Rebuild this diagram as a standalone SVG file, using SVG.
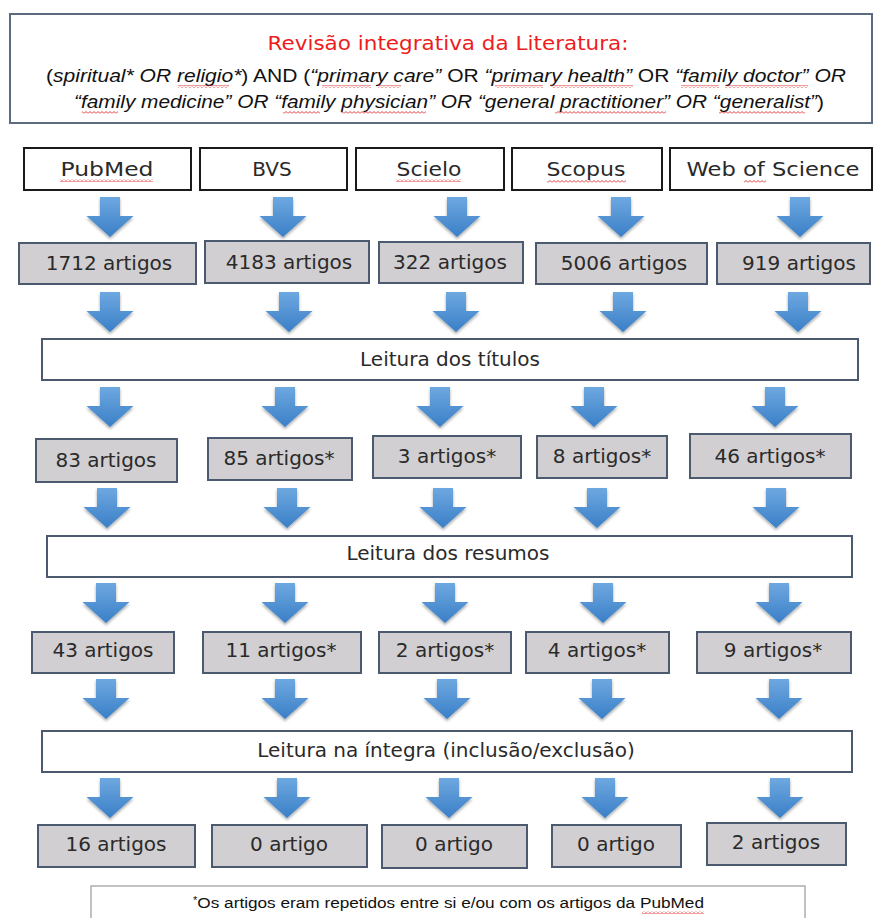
<svg xmlns="http://www.w3.org/2000/svg" width="874" height="918" viewBox="0 0 874 918">
<style>
  .bg{fill:#ffffff}
  .hdr{fill:#ffffff;stroke:#5d6b80;stroke-width:2}
  .src{fill:#ffffff;stroke:#1a1a1a;stroke-width:2}
  .cnt{fill:#d1cfd1;stroke:#4b5a6f;stroke-width:2}
  .step{fill:#ffffff;stroke:#4b5a6f;stroke-width:2}
  .foot{fill:#ffffff;stroke:#9a9a9a;stroke-width:1.2}
  .t{font-family:"DejaVu Sans",sans-serif;font-size:20px;fill:#2a2a2a;text-anchor:middle}
  .title{font-family:"DejaVu Sans",sans-serif;font-size:20px;fill:#ee1c1c;text-anchor:middle}
  .q{font-family:"Liberation Sans",Arial,sans-serif;font-size:18.5px;fill:#111111}
  .i{font-style:italic}
  .fn{font-family:"Liberation Sans",Arial,sans-serif;font-size:15.5px;fill:#111111}
  .sq{fill:url(#squig)}
</style>
<defs>
  <linearGradient id="ag" x1="0" y1="0" x2="0" y2="1">
    <stop offset="0" stop-color="#6ea8e0"/>
    <stop offset="1" stop-color="#3a7fc7"/>
  </linearGradient>
  <filter id="sh" x="-30%" y="-20%" width="160%" height="150%">
    <feDropShadow dx="0" dy="2" stdDeviation="1.6" flood-color="#000000" flood-opacity="0.35"/>
  </filter>
  <path id="arrow" d="M-10 0 H10 V19 H23.5 L0 40 L-23.5 19 H-10 Z" fill="url(#ag)" filter="url(#sh)"/>
  <pattern id="squig" patternUnits="userSpaceOnUse" width="4" height="3">
    <polyline points="0,2.5 2,0.5 4,2.5" fill="none" stroke="#e02020" stroke-width="0.9"/>
  </pattern>
</defs>
<rect class="bg" x="0" y="0" width="874" height="918"/>

<g id="header">
  <rect class="hdr" x="10" y="14" width="862" height="109"/>
  <text class="title" x="448" y="50" textLength="361" lengthAdjust="spacingAndGlyphs">Revisão integrativa da Literatura:</text>
  <text class="q" x="46" y="82" textLength="800" lengthAdjust="spacingAndGlyphs">(<tspan class="i">spiritual* OR religio*</tspan>) AND (<tspan class="i">“primary care”</tspan> OR <tspan class="i">“primary health”</tspan> OR <tspan class="i">“family doctor” OR</tspan></text>
  <text class="q" x="74" y="108" textLength="750" lengthAdjust="spacingAndGlyphs"><tspan class="i">“family medicine” OR “family physician” OR “general practitioner” OR “generalist”</tspan>)</text>
  <rect class="sq" x="178" y="85" width="51" height="3"/>
  <rect class="sq" x="322" y="85" width="49" height="3"/>
  <rect class="sq" x="378" y="85" width="23" height="3"/>
  <rect class="sq" x="495" y="85" width="48" height="3"/>
  <rect class="sq" x="551" y="85" width="82" height="3"/>
  <rect class="sq" x="681" y="85" width="38" height="3"/>
  <rect class="sq" x="725" y="85" width="83" height="3"/>
  <rect class="sq" x="82" y="111" width="36" height="3"/>
  <rect class="sq" x="283" y="111" width="37" height="3"/>
  <rect class="sq" x="341" y="111" width="85" height="3"/>
  <rect class="sq" x="555" y="111" width="111" height="3"/>
  <rect class="sq" x="719" y="111" width="86" height="3"/>
</g>

<g id="src-pubmed"><rect class="src" x="24" y="148" width="167" height="42"/><text class="t" x="107" y="176" textLength="93" lengthAdjust="spacingAndGlyphs">PubMed</text><rect class="sq" x="60" y="179" width="93" height="3"/></g>
<g id="src-bvs"><rect class="src" x="200" y="148" width="147" height="42"/><text class="t" x="272" y="176">BVS</text></g>
<g id="src-scielo"><rect class="src" x="356" y="148" width="148" height="42"/><text class="t" x="429" y="176" textLength="65" lengthAdjust="spacingAndGlyphs">Scielo</text><rect class="sq" x="396" y="179" width="65" height="3"/></g>
<g id="src-scopus"><rect class="src" x="512" y="148" width="150" height="42"/><text class="t" x="586" y="176" textLength="79" lengthAdjust="spacingAndGlyphs">Scopus</text><rect class="sq" x="547" y="180" width="79" height="3"/></g>
<g id="src-wos"><rect class="src" x="670" y="148" width="202" height="42"/><text class="t" x="773" y="176" textLength="173" lengthAdjust="spacingAndGlyphs">Web of Science</text><rect class="sq" x="744" y="180" width="22" height="3"/></g>

<g id="n1-pubmed"><rect class="cnt" x="19" y="243" width="177" height="41"/><text class="t" x="109" y="270">1712 artigos</text></g>
<g id="n1-bvs"><rect class="cnt" x="205" y="241" width="164" height="42"/><text class="t" x="289" y="269">4183 artigos</text></g>
<g id="n1-scielo"><rect class="cnt" x="379" y="242" width="144" height="41"/><text class="t" x="450" y="269">322 artigos</text></g>
<g id="n1-scopus"><rect class="cnt" x="536" y="243" width="171" height="41"/><text class="t" x="624" y="270">5006 artigos</text></g>
<g id="n1-wos"><rect class="cnt" x="717" y="243" width="153" height="41"/><text class="t" x="799" y="270">919 artigos</text></g>

<g id="step-titulos"><rect class="step" x="42" y="339" width="816" height="41"/><text class="t" x="450" y="366">Leitura dos títulos</text></g>

<g id="n2-pubmed"><rect class="cnt" x="36" y="439" width="141" height="43"/><text class="t" x="106" y="467">83 artigos</text></g>
<g id="n2-bvs"><rect class="cnt" x="208" y="438" width="144" height="42"/><text class="t" x="279" y="465">85 artigos*</text></g>
<g id="n2-scielo"><rect class="cnt" x="373" y="436" width="148" height="42"/><text class="t" x="447" y="463">3 artigos*</text></g>
<g id="n2-scopus"><rect class="cnt" x="537" y="436" width="130" height="42"/><text class="t" x="602" y="463">8 artigos*</text></g>
<g id="n2-wos"><rect class="cnt" x="690" y="434" width="161" height="44"/><text class="t" x="770" y="463">46 artigos*</text></g>

<g id="step-resumos"><rect class="step" x="47" y="536" width="805" height="41"/><text class="t" x="448" y="560">Leitura dos resumos</text></g>

<g id="n3-pubmed"><rect class="cnt" x="32" y="632" width="142" height="41"/><text class="t" x="103" y="657">43 artigos</text></g>
<g id="n3-bvs"><rect class="cnt" x="203" y="632" width="158" height="41"/><text class="t" x="281" y="657">11 artigos*</text></g>
<g id="n3-scielo"><rect class="cnt" x="379" y="632" width="132" height="41"/><text class="t" x="445" y="657">2 artigos*</text></g>
<g id="n3-scopus"><rect class="cnt" x="526" y="632" width="143" height="41"/><text class="t" x="597" y="657">4 artigos*</text></g>
<g id="n3-wos"><rect class="cnt" x="697" y="632" width="154" height="41"/><text class="t" x="773" y="657">9 artigos*</text></g>

<g id="step-integra"><rect class="step" x="42" y="731" width="810" height="41"/><text class="t" x="446" y="757">Leitura na íntegra (inclusão/exclusão)</text></g>

<g id="n4-pubmed"><rect class="cnt" x="38" y="825" width="157" height="42"/><text class="t" x="116" y="851">16 artigos</text></g>
<g id="n4-bvs"><rect class="cnt" x="212" y="825" width="155" height="42"/><text class="t" x="289" y="851">0 artigo</text></g>
<g id="n4-scielo"><rect class="cnt" x="382" y="825" width="145" height="43"/><text class="t" x="454" y="851">0 artigo</text></g>
<g id="n4-scopus"><rect class="cnt" x="552" y="825" width="129" height="42"/><text class="t" x="616" y="851">0 artigo</text></g>
<g id="n4-wos"><rect class="cnt" x="707" y="823" width="139" height="42"/><text class="t" x="776" y="849">2 artigos</text></g>

<g id="footnote">
  <rect class="foot" x="91" y="886" width="714" height="40"/>
  <text class="fn" x="193" y="908" textLength="511" lengthAdjust="spacingAndGlyphs"><tspan font-size="10" dy="-4">*</tspan><tspan dy="4">Os artigos eram repetidos entre si e/ou com os artigos da PubMed</tspan></text>
  <rect class="sq" x="642" y="911" width="62" height="3"/>
</g>

<g id="connectors">
  <use href="#arrow" x="110" y="197"/><use href="#arrow" x="283" y="197"/><use href="#arrow" x="457" y="197"/><use href="#arrow" x="621" y="197"/><use href="#arrow" x="800" y="197"/>
  <use href="#arrow" x="110" y="292"/><use href="#arrow" x="289" y="292"/><use href="#arrow" x="456" y="292"/><use href="#arrow" x="623" y="292"/><use href="#arrow" x="798" y="292"/>
  <use href="#arrow" x="110" y="387"/><use href="#arrow" x="285" y="387"/><use href="#arrow" x="440" y="387"/><use href="#arrow" x="594" y="387"/><use href="#arrow" x="775" y="387"/>
  <use href="#arrow" x="107" y="488"/><use href="#arrow" x="287" y="488"/><use href="#arrow" x="443" y="488"/><use href="#arrow" x="597" y="488"/><use href="#arrow" x="776" y="488"/>
  <use href="#arrow" x="106" y="583"/><use href="#arrow" x="285" y="583"/><use href="#arrow" x="445" y="583"/><use href="#arrow" x="603" y="583"/><use href="#arrow" x="779" y="583"/>
  <use href="#arrow" x="106" y="679"/><use href="#arrow" x="285" y="679"/><use href="#arrow" x="447" y="679"/><use href="#arrow" x="602" y="679"/><use href="#arrow" x="779" y="679"/>
  <use href="#arrow" x="110" y="778"/><use href="#arrow" x="287" y="778"/><use href="#arrow" x="449" y="778"/><use href="#arrow" x="605" y="778"/><use href="#arrow" x="780" y="778"/>
</g>
</svg>
